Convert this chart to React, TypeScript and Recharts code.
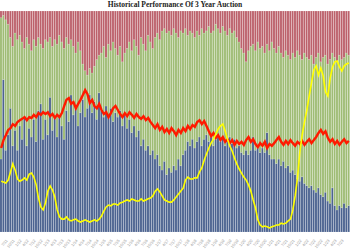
import React from 'react';
import { ComposedChart, Bar, Line, XAxis, YAxis } from 'recharts';

const indirects = [
  33,69,37,44,56,39,46,37,48,42,
  52,39,47,43,51,41,55,58,42,51,
  44,61,46,52,43,53,48,42,55,50,
  62,53,57,48,54,60,52,56,62,54,
  59,51,63,55,52,57,53,56,50,54,
  52,55,48,53,47,51,45,48,43,46,
  39,42,37,39,35,37,33,35,30,28,
  32,26,29,27,30,28,33,30,35,37,
  41,39,42,38,41,43,39,42,44,41,
  43,39,42,43,41,43,39,42,43,40,
  42,38,39,36,35,37,35,37,43,37,
  38,36,38,36,45,35,33,33,31,33,
  30,32,29,30,27,28,26,24,23,25,
  22,21,20,21,19,18,20,17,16,18,
  14,13,20,12,10,12,11,13,11,12,
];

const directs = [
  64,29,59,50,32,45,44,50,41,44,
  31,49,38,39,36,43,33,27,41,36,
  42,27,38,35,42,36,38,41,33,35,
  25,31,24,38,28,16,21,15,12,18,
  16,27,17,26,32,22,32,26,36,29,
  28,29,29,28,36,35,37,39,41,34,
  49,43,45,50,51,46,55,55,57,63,
  60,64,62,62,62,62,55,61,55,55,
  48,52,48,50,50,46,53,48,47,52,
  47,52,52,49,49,50,52,47,49,50,
  49,50,47,47,46,40,47,47,42,45,
  48,47,46,45,40,47,53,50,50,51,
  51,47,53,50,51,53,53,58,57,53,
  59,58,58,59,57,61,61,60,63,62,
  62,65,61,67,67,68,67,66,70,68,
];

const dealers = [
  3,2,4,6,12,16,10,13,11,14,
  17,12,15,18,13,16,12,15,17,13,
  14,12,16,13,15,11,14,17,12,15,
  13,16,19,14,18,24,27,29,26,28,
  25,22,20,19,16,21,15,18,14,17,
  20,16,23,19,17,14,18,13,16,20,
  12,15,18,11,14,17,12,10,13,9,
  8,10,9,11,8,10,12,9,10,8,
  11,9,10,12,9,11,8,10,9,7,
  10,9,6,8,10,7,9,11,8,10,
  9,12,14,17,19,23,18,16,15,18,
  14,17,16,19,15,18,14,17,19,16,
  19,21,18,20,22,19,21,18,20,22,
  19,21,22,20,24,21,19,23,21,20,
  24,22,19,21,23,20,22,21,19,20,
];

const bidToCover = [
  1.90,2.08,2.19,2.31,2.35,2.44,2.40,2.49,2.53,2.56,
  2.60,2.53,2.60,2.58,2.65,2.60,2.69,2.65,2.71,2.67,
  2.71,2.62,2.67,2.58,2.65,2.60,2.69,2.85,2.99,3.03,
  2.90,2.94,2.80,2.90,2.99,3.10,3.21,3.12,2.92,2.99,
  2.85,2.80,2.90,2.76,2.67,2.71,2.60,2.69,2.80,2.85,
  2.76,2.67,2.60,2.69,2.62,2.71,2.65,2.58,2.67,2.60,
  2.56,2.62,2.53,2.58,2.49,2.42,2.35,2.44,2.31,2.38,
  2.26,2.33,2.24,2.35,2.28,2.19,2.31,2.24,2.35,2.28,
  2.40,2.33,2.42,2.38,2.49,2.53,2.44,2.51,2.40,2.28,
  2.17,2.24,2.13,2.19,2.08,2.15,2.04,2.10,2.01,2.08,
  1.97,2.06,1.99,2.04,1.97,2.08,2.15,2.04,2.10,1.99,
  1.92,2.01,1.95,2.04,1.90,1.99,1.95,2.01,2.08,2.15,
  2.04,1.97,2.06,1.99,2.08,2.01,1.95,2.04,1.99,2.06,
  1.97,2.04,2.10,2.01,2.08,2.15,2.24,2.31,2.22,2.28,
  2.13,2.04,2.10,1.99,2.06,1.97,2.04,2.10,2.01,2.06,
];

const highYield = [
  1.38,1.36,1.33,1.41,1.63,1.85,1.68,1.44,1.38,1.41,
  1.47,1.41,1.57,1.60,1.49,1.28,0.92,0.68,0.60,0.79,
  1.11,1.25,1.14,0.95,0.60,0.41,0.35,0.35,0.41,0.33,
  0.30,0.33,0.35,0.30,0.27,0.30,0.33,0.30,0.27,0.30,
  0.33,0.30,0.35,0.43,0.57,0.68,0.73,0.71,0.76,0.76,
  0.73,0.79,0.81,0.84,0.87,0.84,0.90,0.87,0.84,0.84,
  0.90,0.84,0.87,0.90,0.92,0.98,1.11,1.17,1.09,0.98,
  0.87,0.84,0.81,0.81,0.87,0.95,1.03,1.11,1.19,1.41,
  1.49,1.44,1.44,1.47,1.47,1.63,1.74,1.95,2.12,2.28,
  2.42,2.52,2.66,2.80,2.88,2.93,2.74,2.52,2.33,2.20,
  2.01,1.85,1.71,1.60,1.49,1.41,1.28,1.11,0.87,0.65,
  0.33,0.19,0.14,0.16,0.14,0.11,0.14,0.16,0.19,0.19,
  0.24,0.22,0.24,0.30,0.35,0.60,0.98,1.47,2.17,2.63,
  2.99,3.31,3.69,4.05,4.40,4.51,4.26,4.45,4.24,3.80,
  3.69,4.18,4.48,4.62,4.64,4.48,4.37,4.51,4.56,4.59,
];

const startYear = 2011;
const startMonth = 4;
const auctionDates = indirects.map((_, i) => {
  const m = startMonth + i;
  const y = startYear + Math.floor(m / 12);
  return `${(m % 12) + 1}/${String(y % 100).padStart(2, '0')}`;
});
const labelTicks = auctionDates.filter((_, i) => i % 3 === 2 && i < 147);

const data = indirects.map((v, i) => ({
  date: auctionDates[i],
  indirect: v,
  direct: directs[i],
  dealer: dealers[i],
  btc: bidToCover[i],
  yld: highYield[i],
}));

export default function App() {
  return (
    <div style={{ position: 'absolute', left: 0, top: 0, width: 350, height: 250, background: '#ffffff', overflow: 'hidden' }}>
      <div
        style={{
          position: 'absolute',
          left: 0,
          top: 0,
          width: 350,
          textAlign: 'center',
          fontFamily: '"Liberation Serif", "DejaVu Serif", serif',
          fontWeight: 'bold',
          fontSize: 7.5,
          lineHeight: '10px',
          color: '#222',
        }}
      >
        Historical Performance Of 3 Year Auction
      </div>
      <ComposedChart
        width={350}
        height={250}
        data={data}
        margin={{ top: 11, right: 0, left: 0, bottom: 0 }}
        barCategoryGap={0}
      >
        <XAxis
          dataKey="date"
          ticks={labelTicks}
          interval={0}
          angle={-50}
          textAnchor="end"
          height={18}
          tickLine={false}
          axisLine={false}
          tick={{ fontSize: 4, fill: '#9a9a9a', fontFamily: 'Arial, sans-serif' }}
          tickMargin={1}
        />
        <YAxis yAxisId="pct" domain={[0, 100]} hide allowDataOverflow />
        <YAxis yAxisId="btc" domain={[0, 5]} hide />
        <YAxis yAxisId="yld" domain={[0, 6]} hide />
        <Bar yAxisId="pct" dataKey="indirect" stackId="a" fill="#48608e" stroke="#ffffff" strokeOpacity={0.35} strokeWidth={0.4} isAnimationActive={false} />
        <Bar yAxisId="pct" dataKey="direct" stackId="a" fill="#9dbb72" stroke="#ffffff" strokeOpacity={0.35} strokeWidth={0.4} isAnimationActive={false} />
        <Bar yAxisId="pct" dataKey="dealer" stackId="a" fill="#bb5e68" stroke="#ffffff" strokeOpacity={0.35} strokeWidth={0.4} isAnimationActive={false} />
        <Line yAxisId="btc" type="linear" dataKey="btc" stroke="#ff1a00" strokeWidth={2.4} dot={false} isAnimationActive={false} />
        <Line yAxisId="yld" type="linear" dataKey="yld" stroke="#ffff00" strokeWidth={1.6} dot={false} isAnimationActive={false} />
      </ComposedChart>
    </div>
  );
}
